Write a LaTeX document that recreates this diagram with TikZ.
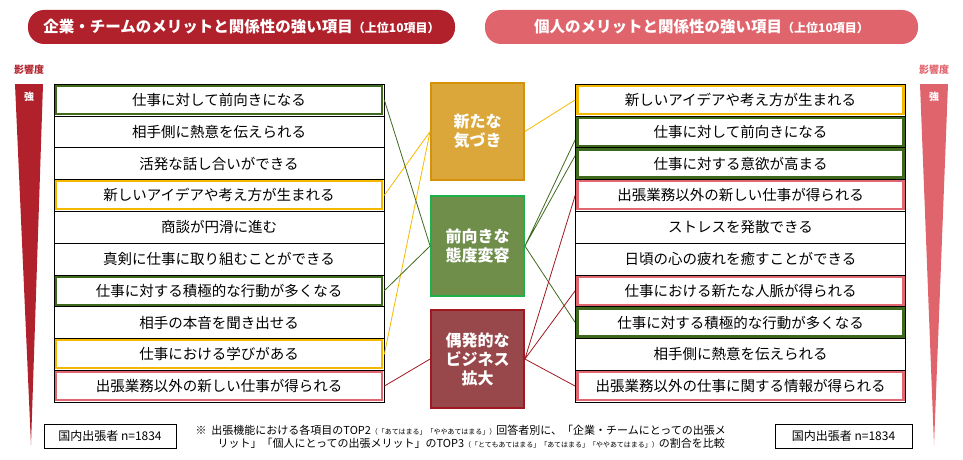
\documentclass[tikz,border=0pt]{standalone}
\usepackage{fontspec}
\setmainfont{Noto Sans CJK JP}
\usetikzlibrary{positioning}
\definecolor{hdrL}{HTML}{B0212B}
\definecolor{hdrR}{HTML}{E0646C}
\definecolor{hlgreen}{HTML}{3F6A1E}
\definecolor{hlyellow}{HTML}{F5B800}
\definecolor{hlpink}{HTML}{E06670}
\definecolor{fillA}{HTML}{DBA73A}
\definecolor{lineA}{HTML}{D4920A}
\definecolor{fillB}{HTML}{6E8E4A}
\definecolor{lineB}{HTML}{1DB14B}
\definecolor{fillC}{HTML}{98474A}
\definecolor{lineC}{HTML}{A01820}
\tikzset{
  item/.style={draw=black, line width=0.6pt, minimum width=330pt, minimum height=31.8pt, inner sep=0pt, font=\fontsize{14.5}{14.5}\selectfont},
  mark/.style={draw=#1, line width=2.2pt, minimum width=326pt, minimum height=28pt, inner sep=0pt},
  hub/.style={draw=#1, line width=1.8pt, minimum width=93pt, text=white, align=center, font=\fontsize{16}{19}\selectfont\bfseries},
  header/.style={rounded corners=16pt, minimum height=34pt, text=white, font=\fontsize{15.5}{15.5}\selectfont\bfseries},
  tie/.style={draw=#1, line width=0.8pt}
}
\begin{document}
\begin{tikzpicture}[x=1pt,y=-1pt]
\useasboundingbox (0,0) rectangle (963,460);
% headers
\node[header, fill=hdrL, minimum width=427pt] (hl) at (241.5,27) {企業・チームのメリットと関係性の強い項目\fontsize{12}{12}\selectfont（上位10項目）};
\node[header, fill=hdrR, minimum width=433pt] (hr) at (701.5,27) {個人のメリットと関係性の強い項目\fontsize{12}{12}\selectfont（上位10項目）};

% strength wedges
\fill[hdrL] (15,84) -- (43,84) -- (31,445) -- cycle;
\fill[hdrR] (920,84) -- (948,84) -- (934,445) -- cycle;
\node[text=hdrL, font=\fontsize{10}{10}\selectfont\bfseries] (kl) at (29,70) {影響度};
\node[text=hdrR, font=\fontsize{10}{10}\selectfont\bfseries] (kr) at (934,70) {影響度};
\node[text=white, font=\fontsize{10}{10}\selectfont\bfseries] (sl) at (29,97) {強};
\node[text=white, font=\fontsize{10}{10}\selectfont\bfseries] (sr) at (934,97) {強};

% left list
\foreach \t [count=\i] in {仕事に対して前向きになる,相手側に熱意を伝えられる,活発な話し合いができる,新しいアイデアや考え方が生まれる,商談が円滑に進む,真剣に仕事に取り組むことができる,仕事に対する積極的な行動が多くなる,相手の本音を聞き出せる,仕事における学びがある,出張業務以外の新しい仕事が得られる}
  \node[item] (L\i) at (219,{84+31.8*(\i-0.5)}) {\t};
% right list
\foreach \t [count=\i] in {新しいアイデアや考え方が生まれる,仕事に対して前向きになる,仕事に対する意欲が高まる,出張業務以外の新しい仕事が得られる,ストレスを発散できる,日頃の心の疲れを癒すことができる,仕事における新たな人脈が得られる,仕事に対する積極的な行動が多くなる,相手側に熱意を伝えられる,出張業務以外の仕事に関する情報が得られる}
  \node[item] (R\i) at (740.5,{84+31.8*(\i-0.5)}) {\t};

% highlights
\foreach \n/\c in {L1/hlgreen,L4/hlyellow,L7/hlgreen,L9/hlyellow,L10/hlpink,
                   R1/hlyellow,R2/hlgreen,R3/hlgreen,R4/hlpink,R7/hlpink,R8/hlgreen,R10/hlpink}
  \node[mark=\c] at (\n) {};

% hubs
\node[hub=lineA, fill=fillA, minimum height=97pt] (ha) at (477.5,131.5) {新たな\\気づき};
\node[hub=lineB, fill=fillB, minimum height=100pt] (hb) at (477.5,246) {前向きな\\態度変容};
\node[hub=lineC, fill=fillC, minimum height=98pt] (hc) at (477.5,359) {偶発的な\\ビジネス\\拡大};

% ties
\draw[tie=hlyellow] (L4.east) -- (ha.west) (L9.east) -- (ha.west) (ha.east) -- (R1.west);
\draw[tie=hlgreen] (L1.east) -- (hb.west) (L7.east) -- (hb.west)
  (hb.east) -- ([yshift=-8pt]R2.west) (hb.east) -- ([yshift=8pt]R3.west) (hb.east) -- (R8.west);
\draw[tie=lineC] (L10.east) -- (hc.west) (hc.east) -- (R4.west) (hc.east) -- (R7.west) (hc.east) -- (R10.west);

% footer
\node[draw, line width=0.8pt, minimum width=132pt, minimum height=24pt, font=\fontsize{12}{12}\selectfont] (nl) at (110,436) {国内出張者 n=1834};
\node[draw, line width=0.8pt, minimum width=137pt, minimum height=24pt, font=\fontsize{12}{12}\selectfont] (nr) at (843.5,436) {国内出張者 n=1834};
\node[anchor=north west, align=left, font=\fontsize{11}{13}\selectfont] (fn) at (192,422)
 {※ \ 出張機能における各項目のTOP2{\fontsize{7}{7}\selectfont（「あてはまる」「ややあてはまる」）}回答者別に、「企業・チームにとっての出張メ\\
 \hspace*{22pt}リット」「個人にとっての出張メリット」のTOP3{\fontsize{7}{7}\selectfont（「とてもあてはまる」「あてはまる」「ややあてはまる」）}の割合を比較};
\end{tikzpicture}
\end{document}
